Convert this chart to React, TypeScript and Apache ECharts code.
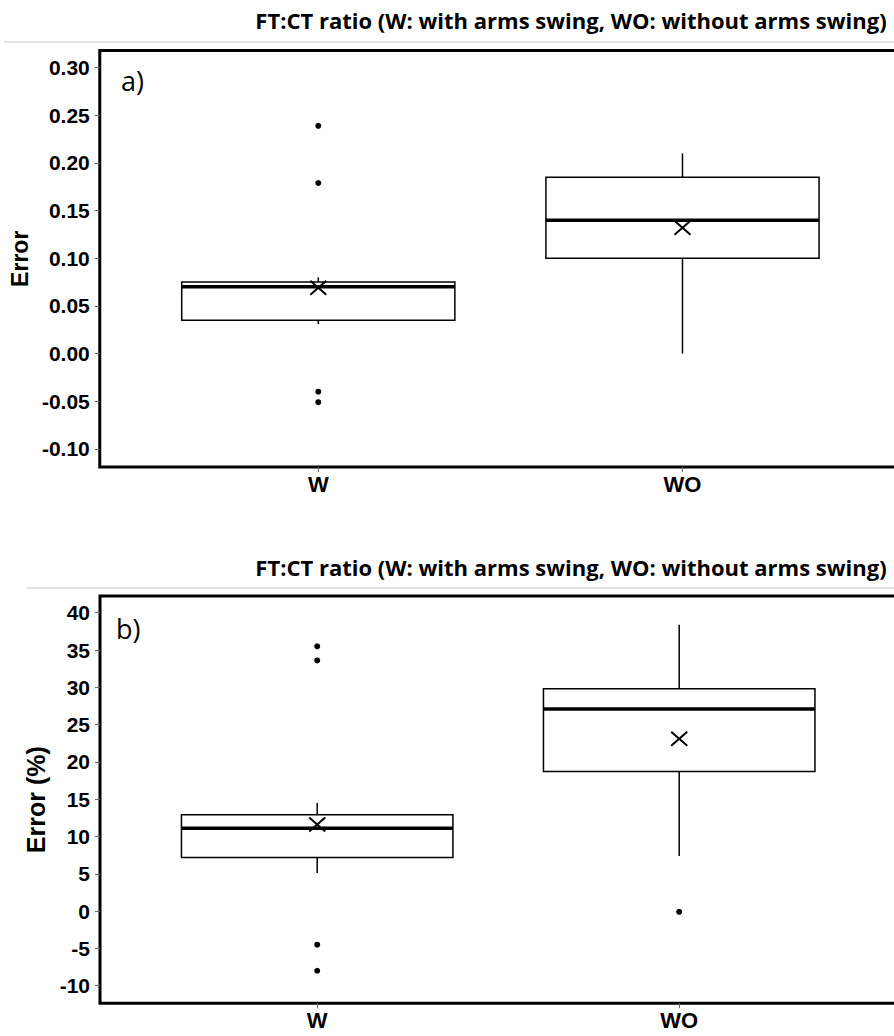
import React, { useEffect, useRef } from "react";
import * as echarts from "echarts";

// ---- data ----
const categories = ["W", "WO"];
const titleText = "FT:CT ratio (W: with arms swing, WO: without arms swing)";

// panel a) Error
const aTicks = [-0.1, -0.05, 0.0, 0.05, 0.1, 0.15, 0.2, 0.25, 0.3];
const aLow = [0.031, 0.0];
const aQ1 = [0.035, 0.1];
const aMedian = [0.07, 0.14];
const aQ3 = [0.075, 0.185];
const aHigh = [0.08, 0.21];
const aMean = [0.069, 0.132];
const aOutliersW = [0.239, 0.179, -0.04, -0.051];
const aOutliersWO: number[] = [];

// panel b) Error (%)
const bTicks = [-10, -5, 0, 5, 10, 15, 20, 25, 30, 35, 40];
const bLow = [5.1, 7.4];
const bQ1 = [7.2, 18.7];
const bMedian = [11.1, 27.1];
const bQ3 = [12.9, 29.8];
const bHigh = [14.5, 38.4];
const bMean = [11.6, 23.1];
const bOutliersW = [35.5, 33.6, -4.5, -8.0];
const bOutliersWO = [-0.1];

const boxRows = (low: number[], q1: number[], med: number[], q3: number[], high: number[], mean: number[]) =>
  categories.map((_, i) => [i + 1, low[i], q1[i], med[i], q3[i], high[i], mean[i]]);

const outlierRows = (w: number[], wo: number[]) => [
  ...w.map((v) => [1, v]),
  ...wo.map((v) => [2, v]),
];

const renderBox = (params: any, api: any) => {
  const x = api.value(0);
  const low = api.value(1);
  const q1 = api.value(2);
  const med = api.value(3);
  const q3 = api.value(4);
  const high = api.value(5);
  const mean = api.value(6);
  const halfW = api.size([0.75, 0])[0] / 2;
  const pQ1 = api.coord([x, q1]);
  const pQ3 = api.coord([x, q3]);
  const pLow = api.coord([x, low]);
  const pHigh = api.coord([x, high]);
  const pMed = api.coord([x, med]);
  const pMean = api.coord([x, mean]);
  const cx = pMed[0];
  const thin = { stroke: "#000", lineWidth: 1.5 };
  const m = 8;
  const mv = 7;
  return {
    type: "group",
    children: [
      { type: "line", shape: { x1: cx, y1: pQ3[1], x2: cx, y2: pHigh[1] }, style: thin },
      { type: "line", shape: { x1: cx, y1: pQ1[1], x2: cx, y2: pLow[1] }, style: thin },
      {
        type: "rect",
        shape: { x: cx - halfW, y: pQ3[1], width: halfW * 2, height: pQ1[1] - pQ3[1] },
        style: { fill: "#fff", stroke: "#000", lineWidth: 1.5 },
      },
      {
        type: "line",
        shape: { x1: cx - halfW, y1: pMed[1], x2: cx + halfW, y2: pMed[1] },
        style: { stroke: "#000", lineWidth: 3.5 },
      },
      {
        type: "line",
        shape: { x1: pMean[0] - m, y1: pMean[1] - mv, x2: pMean[0] + m, y2: pMean[1] + mv },
        style: { stroke: "#000", lineWidth: 2 },
      },
      {
        type: "line",
        shape: { x1: pMean[0] - m, y1: pMean[1] + mv, x2: pMean[0] + m, y2: pMean[1] - mv },
        style: { stroke: "#000", lineWidth: 2 },
      },
    ],
  };
};

const FONT = "'Liberation Sans', Arial, sans-serif";

const xAxisFor = (gridIndex: number) => ({
  type: "value",
  gridIndex,
  min: 0.4,
  max: 2.6,
  position: "bottom",
  splitLine: { show: false },
  axisLine: { show: false, onZero: false },
  axisTick: { show: true, length: 5, customValues: [1, 2], lineStyle: { color: "#666", width: 1 } },
  axisLabel: {
    customValues: [1, 2],
    margin: 6,
    formatter: (v: number) => categories[Math.round(v) - 1] ?? "",
    fontFamily: FONT,
    fontWeight: "bold",
    fontSize: 22,
    color: "#000",
  },
});

const yAxisFor = (gridIndex: number, min: number, max: number, ticks: number[], digits: number, name: string, nameGap: number, nameSize: number) => ({
  type: "value",
  gridIndex,
  min,
  max,
  position: "left",
  name,
  nameLocation: "middle",
  nameRotate: 90,
  nameGap,
  nameTextStyle: { fontFamily: FONT, fontWeight: "bold", fontSize: nameSize, color: "#000" },
  splitLine: { show: false },
  axisLine: { show: false, onZero: false },
  axisTick: { show: true, length: 5, customValues: ticks, lineStyle: { color: "#666", width: 1 } },
  axisLabel: {
    customValues: ticks,
    margin: 10,
    formatter: (v: number) => v.toFixed(digits),
    fontFamily: FONT,
    fontWeight: "bold",
    fontSize: 21,
    color: "#000",
  },
});

const TITLE_FONT = "bold 22px 'Open Sans', sans-serif";

export default function App() {
  const ref = useRef<HTMLDivElement>(null);
  useEffect(() => {
    if (!ref.current) return;
    const chart = echarts.init(ref.current, undefined, { renderer: "svg" });
    const gridStyle = { show: true, borderColor: "#000", borderWidth: 3, backgroundColor: "#fff" };
    chart.setOption({
      animation: false,
      backgroundColor: "#fff",
      grid: [
        { ...gridStyle, left: 99, right: 11, top: 50.5, height: 416.5 },
        { ...gridStyle, left: 100, right: 15.6, top: 596, height: 407.3 },
      ],
      xAxis: [xAxisFor(0), xAxisFor(1)],
      yAxis: [
        yAxisFor(0, -0.119, 0.318, aTicks, 2, "Error", 61, 23),
        yAxisFor(1, -12.36, 42.24, bTicks, 0, "Error (%)", 42, 25),
      ],
      graphic: [
        {
          type: "text",
          x: 571,
          y: 20,
          style: { text: titleText, align: "center", verticalAlign: "middle", font: TITLE_FONT, fill: "#000" },
        },
        { type: "line", shape: { x1: 4, y1: 42, x2: 894, y2: 42 }, style: { stroke: "#d9d9d9", lineWidth: 1.5 } },
        {
          type: "text",
          x: 571,
          y: 567,
          style: { text: titleText, align: "center", verticalAlign: "middle", font: TITLE_FONT, fill: "#000" },
        },
        { type: "line", shape: { x1: 27, y1: 588, x2: 894, y2: 588 }, style: { stroke: "#d9d9d9", lineWidth: 1.5 } },
        {
          type: "text",
          x: 121,
          y: 80,
          z: 100,
          style: { text: "a)", align: "left", verticalAlign: "middle", font: "27px 'Open Sans', sans-serif", fill: "#000" },
        },
        {
          type: "text",
          x: 116,
          y: 628,
          z: 100,
          style: { text: "b)", align: "left", verticalAlign: "middle", font: "27px 'Open Sans', sans-serif", fill: "#000" },
        },
      ],
      series: [
        {
          type: "custom",
          xAxisIndex: 0,
          yAxisIndex: 0,
          renderItem: renderBox,
          encode: { x: 0, y: [1, 2, 3, 4, 5, 6] },
          data: boxRows(aLow, aQ1, aMedian, aQ3, aHigh, aMean),
        },
        {
          type: "scatter",
          xAxisIndex: 0,
          yAxisIndex: 0,
          symbolSize: 6,
          itemStyle: { color: "#000", opacity: 1 },
          data: outlierRows(aOutliersW, aOutliersWO),
        },
        {
          type: "custom",
          xAxisIndex: 1,
          yAxisIndex: 1,
          renderItem: renderBox,
          encode: { x: 0, y: [1, 2, 3, 4, 5, 6] },
          data: boxRows(bLow, bQ1, bMedian, bQ3, bHigh, bMean),
        },
        {
          type: "scatter",
          xAxisIndex: 1,
          yAxisIndex: 1,
          symbolSize: 6,
          itemStyle: { color: "#000", opacity: 1 },
          data: outlierRows(bOutliersW, bOutliersWO),
        },
      ],
    });
    return () => chart.dispose();
  }, []);
  return (
    <div style={{ position: "absolute", left: 0, top: 0, width: 894, height: 1036, overflow: "hidden" }}>
      <div ref={ref} style={{ width: 912, height: 1036 }} />
    </div>
  );
}
